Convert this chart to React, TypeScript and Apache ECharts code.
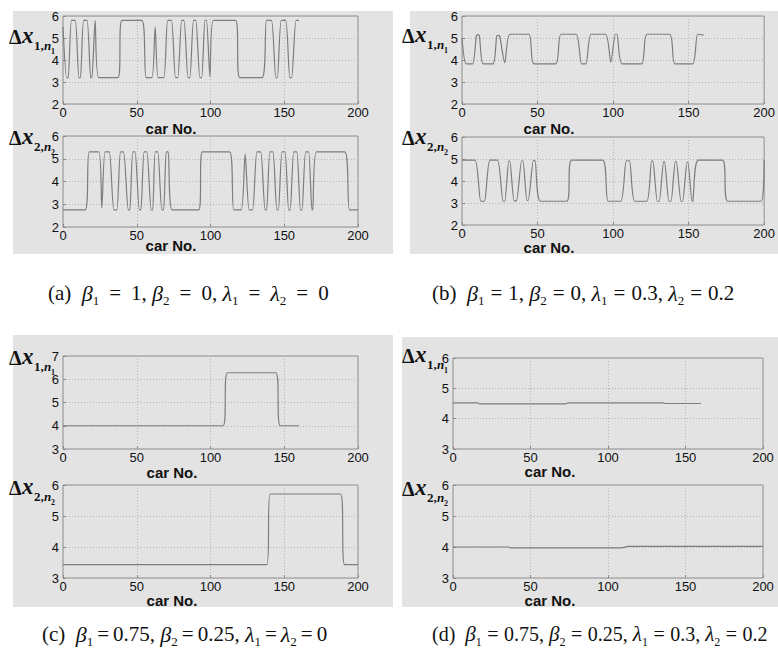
import React, { useEffect, useRef } from "react";
import * as echarts from "echarts";

// ---- data: [car No., Δx] breakpoints ----
const carTicks = [0, 50, 100, 150, 200];

const a1Points = [[0,5.5],[2.5,3.2],[3.5,3.2],[5.8,5.8],[8.3,5.8],[10.8,3.2],[11.8,3.2],[14,5.8],[16.3,5.8],[18.8,3.2],[19.6,3.2],[21.8,5.8],[24.3,3.2],[37.2,3.2],[40,5.8],[53.5,5.8],[56.3,3.2],[60.3,3.2],[62.5,5.5],[64.5,3.2],[68.3,3.2],[71,5.8],[73.5,5.8],[76.3,3.2],[77.8,3.2],[80.5,5.8],[82,5.8],[84.8,3.2],[86,3.2],[88.5,5.8],[90,5.8],[92.8,3.2],[94,3.2],[96.3,5.8],[97.3,5.8],[99.6,3.25],[102,5.8],[117,5.8],[119.8,3.2],[135,3.2],[138,5.8],[141.3,5.8],[144.3,3.2],[145.3,3.2],[148,5.8],[151,5.8],[153.8,3.2],[155,3.2],[158,5.8],[160,5.8]];

const a2Points = [[0,2.75],[15,2.75],[17.8,5.3],[24.3,5.3],[26.3,2.85],[28.5,5.3],[31.3,5.3],[34.5,2.75],[36.5,2.75],[39,5.3],[41,5.3],[44.3,2.75],[45.3,2.75],[47.3,5.3],[48.8,5.3],[51.8,2.75],[52.8,2.75],[55,5.3],[56.8,5.3],[59.8,2.75],[60.8,2.75],[62.5,5.3],[64.2,5.3],[67,2.75],[68.2,2.75],[70,5.3],[71.3,5.3],[74,2.75],[92,2.75],[94.5,5.3],[113,5.3],[115.8,2.75],[120.8,2.75],[123.5,5.2],[126.2,2.75],[128.5,2.75],[131.5,5.3],[134,5.3],[137,2.75],[138,2.75],[140.3,5.3],[142.3,5.3],[145,2.75],[146,2.75],[148.5,5.3],[150.5,5.3],[153,2.75],[154,2.75],[156.5,5.3],[158.5,5.3],[161,2.75],[162,2.75],[164.5,5.3],[166.5,5.3],[168.8,2.75],[169.3,2.75],[171.8,5.3],[191,5.3],[194.3,2.75],[200,2.75]];

const b1Points = [[0,5.0],[2.8,3.82],[7,3.82],[9.5,5.1],[10.5,5.15],[11.5,5.1],[14,3.82],[20.5,3.82],[23,5.08],[24,5.12],[25,5.08],[28.3,3.88],[31.8,5.17],[44.2,5.17],[47.6,3.82],[62,3.82],[65.5,5.17],[75.5,5.17],[79.2,3.82],[82,3.82],[85.5,5.17],[95,5.17],[98.5,3.9],[101.5,5.17],[102.5,5.17],[106,3.82],[118.8,3.82],[122.5,5.17],[137.5,5.17],[141,3.82],[152.6,3.82],[156,5.17],[160,5.13]];

const b2Points = [[0,4.95],[8.5,4.95],[12.5,3.08],[14.8,3.08],[18.5,4.95],[23.5,4.95],[27.2,3.08],[28.3,3.08],[31,4.9],[31.6,4.9],[34.5,3.1],[36,3.1],[39.5,4.92],[40.3,4.92],[43,3.12],[43.8,3.12],[47.3,4.93],[48.3,4.93],[52,3.08],[69.3,3.08],[72.6,4.95],[93,4.95],[96.8,3.08],[105,3.08],[108.8,4.92],[110.8,4.92],[114.3,3.08],[122.3,3.08],[125.5,4.9],[126.3,4.9],[129.3,3.08],[130.5,3.08],[133.5,4.88],[134,4.88],[137,3.08],[138.3,3.08],[141.2,4.88],[141.8,4.88],[145,3.08],[146,3.08],[149,4.85],[149.5,4.85],[152.3,3.08],[152.8,3.1],[156.5,4.95],[172.5,4.95],[176,3.08],[198,3.08],[200,4.95]];

const c1Points = [[0,4],[108.5,4],[111.5,6.28],[144.3,6.28],[147.3,4],[160,4]];
const c2Points = [[0,3.43],[138.2,3.43],[140.5,5.71],[188.2,5.71],[190.9,3.43],[200,3.43]];
const d1Points = [[0,4.52],[16,4.52],[17,4.49],[73,4.49],[74,4.52],[136,4.52],[137,4.5],[160,4.5]];
const d2Points = [[0,4.0],[36,4.0],[37,3.97],[109,3.97],[113,4.02],[200,4.02]];

const yRanges = [[2, 6], [2, 6], [2, 6], [2, 6], [3, 7], [3, 6], [3, 6], [3, 6]];
const laneNames = ["1", "2", "1", "2", "1", "2", "1", "2"];
const xAxisTitle = "car No.";
const captions = [
  "(a)  {g|β}{s|1}{e|=}1, {g|β}{s|2}{e|=}0, {g|λ}{s|1}{e|=}{g|λ}{s|2}{e|=}0",
  "(b)  {g|β}{s|1}{e|=}1, {g|β}{s|2}{e|=}0, {g|λ}{s|1}{e|=}0.3, {g|λ}{s|2}{e|=}0.2",
  "(c)  {g|β}{s|1}{e|=}0.75, {g|β}{s|2}{e|=}0.25, {g|λ}{s|1}{e|=}{g|λ}{s|2}{e|=}0",
  "(d)  {g|β}{s|1}{e|=}0.75, {g|β}{s|2}{e|=}0.25, {g|λ}{s|1}{e|=}0.3, {g|λ}{s|2}{e|=}0.2",
];

const allSeries = [a1Points, a2Points, b1Points, b2Points, c1Points, c2Points, d1Points, d2Points];

// layout (pixels)
const gridBoxes = [
  { left: 63, top: 16, width: 295, height: 88 },
  { left: 63, top: 136, width: 295, height: 91 },
  { left: 462, top: 16, width: 307, height: 88 },
  { left: 462, top: 137, width: 307, height: 88 },
  { left: 63, top: 356, width: 295, height: 93 },
  { left: 63, top: 485, width: 295, height: 93 },
  { left: 453, top: 358, width: 310, height: 91 },
  { left: 453, top: 485, width: 310, height: 93 },
];
const yLabelPos = [[9, 47], [9, 148], [402, 46], [402, 148], [9, 368], [9, 498], [402, 366], [402, 499]];
const carNoPos = [[171, 128], [171, 245], [549, 128], [549, 247], [172, 472], [172, 600], [550, 471], [550, 600]];
const captionPos = [[48, 293], [432, 293], [42, 634], [432, 634]];
const captionFont = [21, 21, 21, 20];
const captionEqPad = [10, 6, 4, 5.5];
const panelBg = [
  { x: 13, y: 11, width: 380, height: 243 },
  { x: 410, y: 11, width: 368, height: 243 },
  { x: 13, y: 335, width: 380, height: 272 },
  { x: 402, y: 337, width: 376, height: 270 },
];

const SERIF = '"Liberation Serif", "Times New Roman", serif';
const SANS = '"Liberation Sans", Arial, sans-serif';
const INK = "#111";

function yLabel(x: number, y: number, lane: string) {
  return {
    type: "group",
    x,
    y,
    silent: true,
    children: [
      { type: "text", x: 0, y: 0, style: { text: "Δ", font: `bold 20px ${SERIF}`, fill: INK, verticalAlign: "bottom" } },
      { type: "text", x: 13, y: 0, style: { text: "x", font: `italic bold 23px ${SERIF}`, fill: INK, verticalAlign: "bottom" } },
      { type: "text", x: 25, y: 5, style: { text: lane + ",", font: `bold 13px ${SERIF}`, fill: INK, verticalAlign: "bottom" } },
      { type: "text", x: 35, y: 5, style: { text: "n", font: `italic bold 13px ${SERIF}`, fill: INK, verticalAlign: "bottom" } },
      { type: "text", x: 42, y: 8, style: { text: lane, font: `bold 8px ${SERIF}`, fill: INK, verticalAlign: "bottom" } },
    ],
  };
}

export default function App() {
  const ref = useRef<HTMLDivElement>(null);
  useEffect(() => {
    if (!ref.current) return;
    const chart = echarts.init(ref.current, null, { renderer: "svg" });
    const graphic: any[] = [];
    panelBg.forEach((r) => {
      graphic.push({ type: "rect", shape: r, style: { fill: "#e3e3e3" }, z: -100, silent: true });
    });
    yLabelPos.forEach((p, i) => graphic.push(yLabel(p[0], p[1], laneNames[i])));
    carNoPos.forEach((p) =>
      graphic.push({
        type: "text",
        x: p[0],
        y: p[1],
        silent: true,
        style: { text: xAxisTitle, font: `bold 15px ${SANS}`, fill: INK, align: "center", verticalAlign: "middle" },
      })
    );
    captions.forEach((c, i) => {
      const fs = captionFont[i];
      graphic.push({
        type: "text",
        x: captionPos[i][0],
        y: captionPos[i][1],
        silent: true,
        style: {
          text: c,
          font: `${fs}px ${SERIF}`,
          fill: INK,
          verticalAlign: "middle",
          lineHeight: 28,
          rich: {
            g: { fontStyle: "italic", fontSize: fs + 1, fontFamily: SERIF, fill: INK, lineHeight: 28, verticalAlign: "middle" },
            s: { fontSize: Math.round(fs * 0.62), fontFamily: SERIF, fill: INK, lineHeight: 28, verticalAlign: "bottom" },
            e: {
              fontSize: fs,
              fontFamily: SERIF,
              fill: INK,
              lineHeight: 28,
              verticalAlign: "middle",
              padding: [0, captionEqPad[i], 0, captionEqPad[i]],
            },
          },
        },
      });
    });

    const option: any = {
      animation: false,
      graphic,
      grid: gridBoxes.map((g) => ({
        ...g,
        show: true,
        borderColor: "#8c8c8c",
        borderWidth: 1,
        backgroundColor: "transparent",
      })),
      xAxis: gridBoxes.map((_, i) => ({
        type: "value",
        gridIndex: i,
        min: carTicks[0],
        max: carTicks[carTicks.length - 1],
        interval: 50,
        axisLine: { show: false },
        axisTick: { show: true, inside: true, length: 3, lineStyle: { color: "#8c8c8c" } },
        axisLabel: { color: INK, fontSize: 13, fontFamily: SANS, margin: 2 },
        splitLine: { show: true, lineStyle: { type: [1, 2], color: "#b4b4b4", width: 1 } },
      })),
      yAxis: gridBoxes.map((_, i) => ({
        type: "value",
        gridIndex: i,
        min: yRanges[i][0],
        max: yRanges[i][1],
        interval: 1,
        axisLine: { show: false },
        axisTick: { show: true, inside: true, length: 3, lineStyle: { color: "#8c8c8c" } },
        axisLabel: { color: INK, fontSize: 13, fontFamily: SANS, margin: 4 },
        splitLine: { show: true, lineStyle: { type: [1, 2], color: "#b4b4b4", width: 1 } },
      })),
      series: allSeries.map((d, i) => ({
        type: "line",
        xAxisIndex: i,
        yAxisIndex: i,
        data: d,
        showSymbol: false,
        smooth: 0.25,
        lineStyle: { color: "#7d7d7d", width: 1.2 },
        z: 3,
      })),
    };
    chart.setOption(option);
    return () => chart.dispose();
  }, []);
  return (
    <div
      ref={ref}
      style={{ position: "absolute", left: 0, top: 0, width: 778, height: 652, background: "#fff" }}
    />
  );
}
